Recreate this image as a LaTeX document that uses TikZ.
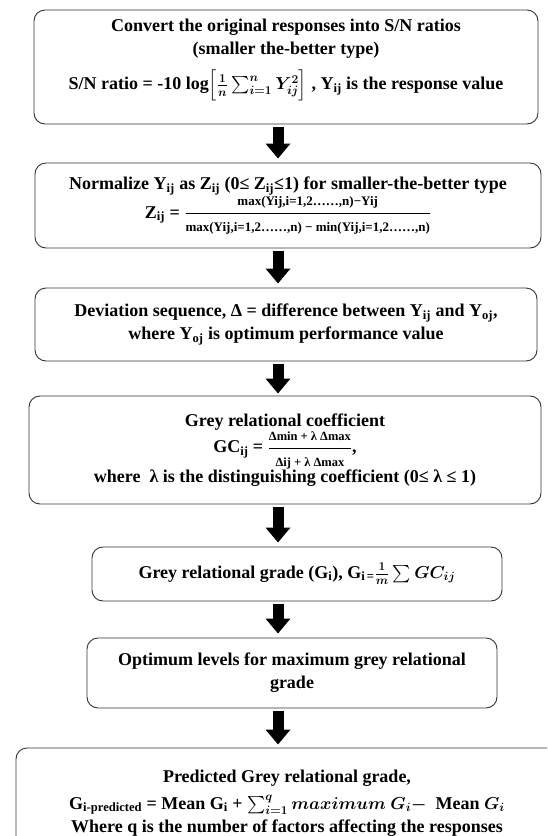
\documentclass[tikz,border=0pt]{standalone}
\usepackage{amsmath}
\usepackage{bm}
\usepackage{fontspec}
\setmainfont{Liberation Serif}
\usetikzlibrary{arrows.meta}
\newcommand{\sub}[1]{\textsubscript{#1}}
\newcommand{\smalltxt}[1]{\hbox{\fontsize{13}{14}\selectfont #1}}
\newcommand{\smtxt}[1]{\hbox{\fontsize{12.5}{14}\selectfont #1}}
\begin{document}
\begin{tikzpicture}[x=1pt,y=-1pt,
  box/.style={draw=black!80, line width=0.9pt, rounded corners=11pt, align=center,
    font=\bfseries\boldmath\fontsize{18}{23}\selectfont, inner sep=0pt},
  flow/.style={line width=11pt, draw=black, -{Triangle[width=24pt,length=15pt]}}]
\useasboundingbox (0,0) rectangle (547,836);
\clip (0,0) rectangle (547,836);
\coordinate (ax) at (278,0);

\node[box, minimum width=504pt, minimum height=114pt] (b1) at (286,67)
 {Convert the original responses into S/N ratios\\
  (smaller the-better type)\\[10pt]
  S/N ratio = -10 log$\left[\frac{1}{n}\sum_{i=1}^{n}Y_{ij}^{2}\right]$ , Y\sub{ij} is the response value\\[2pt]\mbox{}};

\node[box, minimum width=506pt, minimum height=85pt] (b2) at (288,205.5)
 {Normalize Y\sub{ij} as Z\sub{ij} (0≤ Z\sub{ij}≤1) for smaller-the-better type\\
  Z\sub{ij} = $\dfrac{\smalltxt{max(Yij,i=1,2……,n)−Yij}}{\smalltxt{max(Yij,i=1,2……,n) − min(Yij,i=1,2……,n)}}$};

\node[box, minimum width=502pt, minimum height=73pt] (b3) at (286,324.5)
 {Deviation sequence, Δ = difference between Y\sub{ij} and Y\sub{oj},\\
  where Y\sub{oj} is optimum performance value};

\node[box, minimum width=512pt, minimum height=108pt] (b4) at (285,450)
 {Grey relational coefficient\\
  GC\sub{ij} = $\dfrac{\smtxt{Δmin + λ Δmax}}{\smtxt{Δij + λ Δmax}}$,\\
  where\ \ λ is the distinguishing coefficient (0≤ λ ≤ 1)};

\node[box, minimum width=410pt, minimum height=54pt] (b5) at (297,574)
 {Grey relational grade (G\sub{i}), G\sub{i\,=}$\frac{1}{m}\sum GC_{ij}$};

\node[box, minimum width=410pt, minimum height=70pt] (b6) at (292,673)
 {Optimum levels for maximum grey relational\\ grade};

\node[box, minimum width=542pt, minimum height=110pt] (b7) at (287,803)
 {Predicted Grey relational grade,\\[4pt]
  G\sub{i-predicted} = Mean G\sub{i} + $\sum_{i=1}^{q} maximum\ G_i -$\ \ Mean $G_i$\\[0pt]
  Where q is the number of factors affecting the responses};

\draw[flow] ([yshift=-3pt]b1.south -| ax) -- ([yshift=4pt]b2.north -| ax);
\draw[flow] ([yshift=-3pt]b2.south -| ax) -- ([yshift=4pt]b3.north -| ax);
\draw[flow] ([yshift=-3pt]b3.south -| ax) -- ([yshift=2pt]b4.north -| ax);
\draw[flow] ([yshift=-3pt]b4.south -| ax) -- ([yshift=4pt]b5.north -| ax);
\draw[flow] ([yshift=-3pt]b5.south -| ax) -- ([yshift=4pt]b6.north -| ax);
\draw[flow] ([yshift=-3pt]b6.south -| ax) -- ([yshift=3pt]b7.north -| ax);
\end{tikzpicture}
\end{document}
